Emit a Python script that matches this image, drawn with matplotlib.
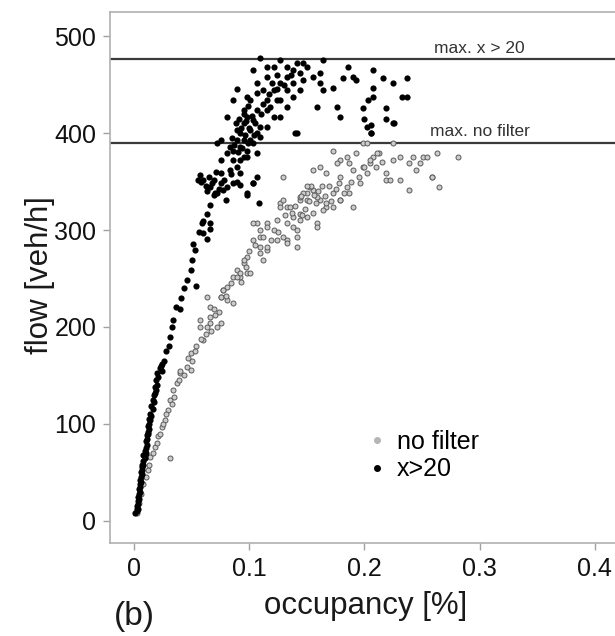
import matplotlib
matplotlib.use("Agg")
import matplotlib.pyplot as plt
from matplotlib.lines import Line2D

plt.rcParams['font.family'] = ['Liberation Sans', 'DejaVu Sans']

# ---------------- data ----------------
# series "x>20" (black dots): occupancy, flow
x20_occ = [
    0.002, 0.002, 0.003, 0.003, 0.004, 0.004, 0.005, 0.005, 0.006, 0.006,
    0.007, 0.007, 0.008, 0.008, 0.009, 0.010, 0.010, 0.011, 0.012, 0.012,
    0.013, 0.014, 0.015, 0.016, 0.017, 0.018, 0.019, 0.020, 0.022, 0.024,
    0.003, 0.005, 0.007, 0.009, 0.011, 0.013, 0.015, 0.017, 0.019,
    0.024, 0.030, 0.031, 0.033, 0.034, 0.036, 0.040, 0.041, 0.043, 0.046,
    0.049, 0.050, 0.054, 0.053, 0.051, 0.056, 0.060, 0.059, 0.063, 0.066,
    0.069, 0.070, 0.066, 0.080, 0.086, 0.098, 0.103, 0.108, 0.092, 0.075,
    0.057, 0.060, 0.069, 0.075, 0.081, 0.089, 0.098, 0.103, 0.072, 0.075,
    0.083, 0.086, 0.089, 0.092, 0.095, 0.098, 0.101, 0.107, 0.109, 0.115,
    0.121, 0.121, 0.127, 0.133, 0.138, 0.144, 0.150, 0.109, 0.127, 0.103,
    0.089, 0.081, 0.086, 0.098, 0.107, 0.115, 0.124, 0.133, 0.147, 0.164,
    0.161, 0.164, 0.159, 0.179, 0.176, 0.141, 0.186, 0.181, 0.193, 0.207,
    0.207, 0.216, 0.225, 0.237, 0.203, 0.199, 0.219, 0.233, 0.237, 0.200,
    0.219, 0.226, 0.206, 0.206, 0.092, 0.081, 0.086, 0.089, 0.092, 0.083,
    0.075, 0.098, 0.103, 0.109, 0.115, 0.107, 0.118, 0.127, 0.133, 0.138,
    0.144, 0.112, 0.101, 0.095, 0.103, 0.115, 0.124, 0.127, 0.133, 0.138,
    0.147, 0.141, 0.121, 0.115, 0.107, 0.095, 0.089, 0.095, 0.101, 0.107,
    0.098, 0.161, 0.173, 0.155, 0.207, 0.190, 0.066, 0.072, 0.077, 0.107,
    0.140, 0.202, 0.206, 0.225, 0.060, 0.066, 0.063,
    0.085, 0.088, 0.090, 0.091, 0.093, 0.094, 0.096, 0.097, 0.099, 0.100,
    0.102, 0.104, 0.087, 0.092, 0.095, 0.099, 0.105, 0.110, 0.112, 0.117,
    0.120, 0.124, 0.130, 0.136,
    0.062, 0.065, 0.068, 0.071, 0.074, 0.078, 0.084, 0.058, 0.055, 0.063,
    0.001, 0.002, 0.003, 0.004, 0.005, 0.006, 0.007, 0.008, 0.009, 0.010,
    0.011, 0.012, 0.013, 0.014, 0.016, 0.018, 0.020, 0.021, 0.023, 0.026,
    0.028,
]
x20_flow = [
    10, 15, 20, 25, 28, 33, 38, 42, 45, 50,
    55, 58, 62, 68, 72, 75, 82, 88, 92, 98,
    105, 110, 118, 125, 130, 138, 145, 152, 158, 162,
    12, 30, 48, 65, 78, 95, 108, 122, 135,
    154, 180, 190, 200, 207, 221, 218, 230, 240, 248,
    259, 269, 242, 279, 286, 298, 297, 307, 317, 307,
    336, 338, 326, 331, 348, 336, 348, 328, 346, 348,
    357, 352, 352, 359, 344, 350, 338, 348, 390, 393,
    386, 382, 393, 400, 375, 417, 403, 424, 406, 434,
    444, 417, 452, 458, 452, 462, 468, 477, 475, 465,
    446, 417, 434, 437, 452, 458, 460, 468, 472, 475,
    462, 444, 427, 417, 427, 400, 468, 457, 455, 465,
    447, 457, 452, 457, 434, 426, 426, 437, 437, 415,
    415, 410, 400, 408, 386, 379, 372, 365, 359, 362,
    372, 382, 390, 396, 406, 379, 427, 434, 444, 437,
    444, 444, 434, 424, 413, 424, 434, 417, 427, 465,
    455, 472, 468, 468, 441, 410, 403, 393, 393, 400,
    375, 452, 447, 458, 437, 458, 344, 338, 341, 355,
    400, 406, 400, 410, 309, 301, 291,
    395, 410, 380, 415, 405, 385, 398, 412, 390, 405,
    418, 398, 388, 372, 420, 428, 410, 420, 430, 440,
    452, 446, 450, 460,
    345, 355, 348, 360, 342, 352, 358, 350, 352, 340,
    8, 12, 17, 22, 35, 40, 52, 58, 68, 70,
    84, 90, 100, 104, 115, 132, 140, 148, 160, 165,
    175,
]

# series "no filter" (grey circles): occupancy, flow
nof_occ = [
    0.002, 0.004, 0.006, 0.008, 0.010, 0.012, 0.013,
    0.014, 0.018, 0.021, 0.024, 0.027, 0.029, 0.031, 0.034, 0.037, 0.040,
    0.046, 0.049, 0.031,
    0.040, 0.049, 0.054, 0.060, 0.057, 0.066, 0.072, 0.075, 0.081, 0.077,
    0.086, 0.092, 0.098, 0.095, 0.103, 0.109, 0.115, 0.109, 0.107, 0.115,
    0.121, 0.124, 0.129, 0.133, 0.141, 0.138, 0.133, 0.144, 0.150, 0.155,
    0.161, 0.167, 0.173, 0.179, 0.187, 0.190, 0.159, 0.150, 0.144, 0.127,
    0.098, 0.089, 0.081, 0.066, 0.057, 0.063,
    0.173, 0.179, 0.193, 0.199, 0.207, 0.213, 0.219, 0.225, 0.231, 0.239,
    0.245, 0.251, 0.259, 0.239, 0.231, 0.219, 0.155, 0.161, 0.167, 0.179,
    0.185, 0.196, 0.202, 0.190, 0.153, 0.147, 0.144, 0.150, 0.159, 0.164,
    0.173, 0.179, 0.167, 0.155, 0.144, 0.138, 0.129, 0.127, 0.135, 0.159,
    0.141, 0.133, 0.129, 0.115, 0.109, 0.103, 0.112, 0.124, 0.133, 0.141,
    0.115, 0.109, 0.112, 0.095, 0.092, 0.089, 0.101, 0.077, 0.075, 0.086,
    0.069, 0.066, 0.075, 0.063, 0.176, 0.187, 0.205, 0.199,
    0.185, 0.202, 0.211, 0.225, 0.242, 0.254, 0.263, 0.281, 0.248, 0.259,
    0.265, 0.222,
    0.140, 0.145, 0.148, 0.152, 0.154, 0.156, 0.158, 0.160, 0.163, 0.166,
    0.169, 0.171, 0.175, 0.178, 0.182, 0.188, 0.195, 0.200, 0.205, 0.210,
    0.215, 0.150, 0.146, 0.137, 0.131, 0.125, 0.119, 0.105, 0.100, 0.097,
    0.093, 0.084, 0.080, 0.074, 0.070, 0.067, 0.062, 0.058, 0.053, 0.050,
    0.047, 0.043, 0.039, 0.035, 0.033, 0.028, 0.025, 0.022, 0.020, 0.016,
]
nof_flow = [
    8, 18, 28, 38, 45, 52, 58,
    66, 76, 87, 97, 104, 114, 125, 135, 142, 152,
    159, 156, 65,
    154, 173, 180, 187, 200, 204, 200, 231, 228, 238,
    252, 252, 256, 266, 290, 282, 279, 293, 307, 307,
    300, 310, 293, 290, 282, 303, 324, 331, 338, 341,
    331, 324, 338, 331, 338, 324, 307, 313, 317, 328,
    272, 259, 241, 221, 207, 231,
    382, 372, 379, 390, 375, 379, 359, 372, 375, 369,
    362, 375, 355, 341, 352, 352, 362, 365, 359, 355,
    344, 348, 359, 362, 344, 338, 334, 331, 334, 321,
    324, 331, 328, 318, 310, 313, 331, 324, 324, 303,
    300, 307, 355, 303, 300, 307, 293, 290, 287, 293,
    282, 276, 269, 269, 256, 252, 256, 238, 231, 225,
    218, 210, 204, 200, 369, 369, 369, 365,
    375, 390, 379, 390, 375, 375, 379, 375, 369, 355,
    344, 352,
    325, 335, 322, 330, 345, 336, 328, 340, 345, 335,
    345, 330, 342, 348, 338, 350, 355, 365, 372, 365,
    370, 345, 315, 318, 315, 298, 290, 285, 278, 262,
    246, 245, 232, 215, 212, 196, 193, 188, 175, 165,
    168, 150, 145, 128, 120, 110, 100, 90, 80, 70,
]

max_x20 = 476
max_nofilter = 390

# ---------------- figure ----------------
fig = plt.figure(figsize=(6.15, 6.36), dpi=100)
# axes run past the right edge of the picture (cropped figure)
ax = fig.add_axes([0.1789, 0.1462, 0.863, 0.835])

ax.scatter(nof_occ, nof_flow, s=13, facecolors='#cccccc', edgecolors='#5a5a5a',
           linewidths=0.7, zorder=2)
ax.scatter(x20_occ, x20_flow, s=20, color='black', linewidths=0, zorder=3)

ax.axhline(max_x20, color='#3a3a3a', lw=1.6, zorder=1)
ax.axhline(max_nofilter, color='#3a3a3a', lw=1.6, zorder=1)
ax.text(0.30, max_x20 + 4, 'max. x > 20', ha='center', va='bottom',
        fontsize=12.5, color='#333333')
ax.text(0.30, max_nofilter + 4, 'max. no filter', ha='center', va='bottom',
        fontsize=12.5, color='#333333')

ax.set_xlim(-0.021, 0.44)
ax.set_ylim(-23, 525)
ax.set_xticks([0, 0.1, 0.2, 0.3, 0.4])
ax.set_xticklabels(['0', '0.1', '0.2', '0.3', '0.4'])
ax.set_yticks([0, 100, 200, 300, 400, 500])

for s in ax.spines.values():
    s.set_color('#b0b0b0')
    s.set_linewidth(1.2)
ax.tick_params(direction='out', length=5, width=1, color='#a0a0a0',
               labelsize=18, labelcolor='#111111', pad=5)

fig.text(0.065, 0.568, 'flow [veh/h]', rotation=90, ha='center', va='center',
         fontsize=22.5, color='#1a1a1a')
fig.text(0.594, 0.047, 'occupancy [%]', ha='center', va='center',
         fontsize=22.5, color='#1a1a1a')
fig.text(0.218, 0.030, '(b)', ha='center', va='center', fontsize=24,
         color='#1a1a1a')

handles = [
    Line2D([], [], ls='none', marker='o', ms=4, mfc='#b5b5b5', mec='#b5b5b5'),
    Line2D([], [], ls='none', marker='o', ms=4, mfc='black', mec='black'),
]
ax.legend(handles, ['no filter', 'x>20'], loc='center left',
          bbox_to_anchor=(0.46, 0.165), frameon=False, fontsize=18,
          handletextpad=0.3, handlelength=1.0, labelspacing=0.15,
          borderaxespad=0)

fig.savefig('out.png', dpi=100)
